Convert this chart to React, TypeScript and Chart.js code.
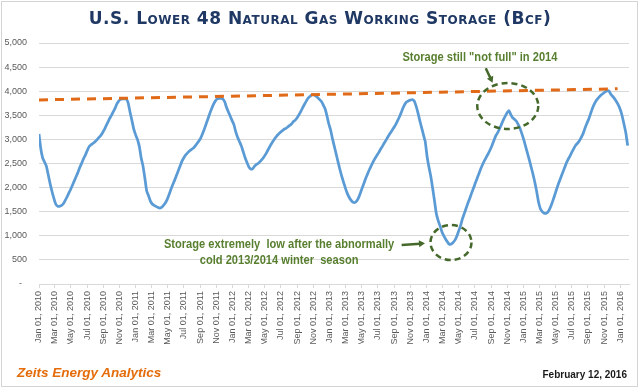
import React, { useEffect, useRef } from "react";
import { Chart, registerables } from "chart.js";

Chart.register(...registerables);

// Weekly Lower 48 working gas in storage (Bcf), week-ending Fridays starting Jan 01, 2010
const START_DATE = "Jan 01, 2010";
const STORAGE_2010 = [
  3112, 2800, 2610, 2530, 2440, 2260, 2080, 1920, 1780, 1660, 1615, 1610, 1625, 1660, 1725, 1800,
  1880, 1960, 2050, 2140, 2230, 2320, 2420, 2510, 2600, 2680, 2770, 2850, 2890, 2915, 2945, 2985,
  3030, 3070, 3120, 3190, 3270, 3350, 3430, 3500, 3575, 3650, 3740, 3800, 3830, 3840, 3843, 3835,
  3760, 3570, 3400, 3220, 3100,
];
const STORAGE_2011 = [
  3000, 2860, 2620, 2450, 2200, 1930, 1830, 1720, 1660, 1630, 1610, 1590, 1575, 1590, 1630, 1680,
  1750, 1850, 1960, 2060, 2150, 2250, 2350, 2450, 2550, 2620, 2680, 2720, 2760, 2790, 2815, 2860,
  2910, 2960, 3020, 3110, 3210, 3320, 3430, 3540, 3640, 3730, 3800, 3840, 3850, 3852, 3840, 3780,
  3660, 3570, 3480, 3390,
];
const STORAGE_2012 = [
  3300, 3150, 3040, 2950, 2860, 2740, 2620, 2520, 2430, 2385, 2390, 2440, 2480, 2500, 2540, 2580,
  2630, 2690, 2760, 2830, 2900, 2960, 3020, 3070, 3110, 3150, 3180, 3210, 3230, 3260, 3290, 3320,
  3370, 3400, 3450, 3510, 3580, 3660, 3730, 3800, 3860, 3895, 3925, 3929, 3900, 3870, 3830, 3790,
  3720, 3640, 3500, 3330,
];
const STORAGE_2013 = [
  3200, 3020, 2860, 2700, 2540, 2380, 2240, 2110, 1990, 1880, 1800, 1740, 1700, 1690, 1720, 1780,
  1880, 1990, 2090, 2200, 2290, 2380, 2460, 2540, 2610, 2670, 2730, 2800, 2860, 2930, 2990, 3060,
  3120, 3180, 3240, 3300, 3380, 3460, 3550, 3650, 3730, 3780, 3800, 3816, 3825, 3800, 3700, 3560,
  3400, 3250, 3100, 2950,
];
const STORAGE_2014 = [
  2640, 2420, 2230, 1980, 1720, 1450, 1310, 1200, 1080, 1000, 930, 870, 822, 830, 860, 910,
  990, 1100, 1210, 1350, 1460, 1570, 1680, 1780, 1890, 1990, 2100, 2200, 2300, 2400, 2490, 2570,
  2640, 2710, 2790, 2880, 2980, 3080, 3140, 3220, 3310, 3400, 3480, 3550, 3600, 3520, 3450, 3420,
  3380, 3310, 3230, 3120,
];
const STORAGE_2015 = [
  3000, 2860, 2720, 2580, 2430, 2280, 2110, 1920, 1700, 1560, 1500, 1470, 1465, 1490, 1560, 1650,
  1760, 1880, 2000, 2110, 2210, 2310, 2410, 2510, 2590, 2660, 2740, 2810, 2880, 2920, 2970, 3040,
  3120, 3230, 3330, 3420, 3530, 3640, 3730, 3800, 3850, 3895, 3930, 3960, 3990, 4009, 4000, 3930,
  3890, 3840, 3780, 3710,
];
const STORAGE_2016 = [3620, 3490, 3320, 3140, 2870];

// Dashed "full storage" trend line (date, Bcf)
const TREND_DATES = ["Jan 01, 2010", "Dec 22, 2015"];
const TREND_VALUES = [3820, 4050];

const X_TICK_LABELS = [
  "Jan 01, 2010", "Mar 01, 2010", "May 01, 2010", "Jul 01, 2010", "Sep 01, 2010", "Nov 01, 2010",
  "Jan 01, 2011", "Mar 01, 2011", "May 01, 2011", "Jul 01, 2011", "Sep 01, 2011", "Nov 01, 2011",
  "Jan 01, 2012", "Mar 01, 2012", "May 01, 2012", "Jul 01, 2012", "Sep 01, 2012", "Nov 01, 2012",
  "Jan 01, 2013", "Mar 01, 2013", "May 01, 2013", "Jul 01, 2013", "Sep 01, 2013", "Nov 01, 2013",
  "Jan 01, 2014", "Mar 01, 2014", "May 01, 2014", "Jul 01, 2014", "Sep 01, 2014", "Nov 01, 2014",
  "Jan 01, 2015", "Mar 01, 2015", "May 01, 2015", "Jul 01, 2015", "Sep 01, 2015", "Nov 01, 2015",
  "Jan 01, 2016",
];
const X_END_DATE = "Feb 03, 2016";
const Y_MIN = 0;
const Y_MAX = 5000;
const Y_STEP = 500;

const TITLE = "U.S. Lower 48 Natural Gas Working Storage (Bcf)";
const SOURCE = "Zeits Energy Analytics";
const DATE_NOTE = "February 12, 2016";
const NOTE_FULL = ['Storage still "not full" in 2014'];
const NOTE_LOW = ["Storage extremely  low after the abnormally", "cold 2013/2014 winter  season"];

const MONTHS = ["Jan", "Feb", "Mar", "Apr", "May", "Jun", "Jul", "Aug", "Sep", "Oct", "Nov", "Dec"];
function dayOf(label: string): number {
  const [mon, d, y] = label.replace(",", "").split(" ");
  const base = START_DATE.replace(",", "").split(" ");
  const t0 = Date.UTC(+base[2], MONTHS.indexOf(base[0]), +base[1]);
  return Math.round((Date.UTC(+y, MONTHS.indexOf(mon), +d) - t0) / 86400000);
}

const WEEKLY = [
  ...STORAGE_2010, ...STORAGE_2011, ...STORAGE_2012, ...STORAGE_2013,
  ...STORAGE_2014, ...STORAGE_2015, ...STORAGE_2016,
];
const STORAGE_POINTS = WEEKLY.map((v, i) => ({ x: i * 7, y: v }));
const TREND_POINTS = TREND_DATES.map((d, i) => ({ x: dayOf(d), y: TREND_VALUES[i] }));
const TICK_DAYS = X_TICK_LABELS.map(dayOf);
const LABEL_BY_DAY = new Map(X_TICK_LABELS.map((l) => [dayOf(l), l] as [number, string]));

const GREEN_TEXT = "#587f2f";
const GREEN_LINE = "#45692b";
const AXIS_FONT = { family: "'Liberation Sans', Arial, sans-serif", size: 9 };

function drawArrow(ctx: CanvasRenderingContext2D, x1: number, y1: number, x2: number, y2: number) {
  const ang = Math.atan2(y2 - y1, x2 - x1);
  const head = 6;
  ctx.beginPath();
  ctx.moveTo(x1, y1);
  ctx.lineTo(x2 - Math.cos(ang) * head * 0.8, y2 - Math.sin(ang) * head * 0.8);
  ctx.stroke();
  ctx.beginPath();
  ctx.moveTo(x2, y2);
  ctx.lineTo(x2 - head * Math.cos(ang) + 3.5 * Math.sin(ang), y2 - head * Math.sin(ang) - 3.5 * Math.cos(ang));
  ctx.lineTo(x2 - head * Math.cos(ang) - 3.5 * Math.sin(ang), y2 - head * Math.sin(ang) + 3.5 * Math.cos(ang));
  ctx.closePath();
  ctx.fill();
}

const notesPlugin = {
  id: "notes",
  afterDatasetsDraw(chart: any) {
    const { ctx } = chart;
    const xs = chart.scales.x;
    const ys = chart.scales.y;
    const px = (d: number) => xs.getPixelForValue(d);
    const py = (v: number) => ys.getPixelForValue(v);
    ctx.save();

    // dashed circles
    ctx.strokeStyle = GREEN_LINE;
    ctx.lineWidth = 2.5;
    ctx.setLineDash([6, 4]);
    ctx.beginPath();
    ctx.ellipse(px(1767), py(3693), 30.5, 23, 0, 0, Math.PI * 2);
    ctx.stroke();
    ctx.beginPath();
    ctx.ellipse(px(1553), py(861), 20.5, 17.5, 0, 0, Math.PI * 2);
    ctx.stroke();
    ctx.setLineDash([]);

    // arrows
    ctx.strokeStyle = GREEN_LINE;
    ctx.fillStyle = GREEN_LINE;
    ctx.lineWidth = 2.5;
    drawArrow(ctx, px(1684), py(4477), px(1710), py(4176));
    drawArrow(ctx, px(1367), py(809), px(1455), py(844));

    // texts (condensed bold)
    ctx.fillStyle = GREEN_TEXT;
    ctx.font = "bold 13px 'Liberation Sans', Arial, sans-serif";
    ctx.textAlign = "center";
    ctx.textBaseline = "alphabetic";
    const drawLine = (t: string, cx: number, by: number) => {
      ctx.save();
      ctx.translate(cx, by);
      ctx.scale(0.855, 1);
      ctx.fillText(t, 0, 0);
      ctx.restore();
    };
    NOTE_FULL.forEach((t, i) => drawLine(t, px(1662), py(4627) + i * 16));
    NOTE_LOW.forEach((t, i) => drawLine(t, px(905), py(747) + i * 16));
    ctx.restore();
  },
};

export default function App() {
  const ref = useRef<HTMLCanvasElement>(null);

  useEffect(() => {
    const chart = new Chart(ref.current as HTMLCanvasElement, {
      type: "line",
      data: {
        datasets: [
          {
            data: TREND_POINTS,
            borderColor: "#e06a17",
            borderWidth: 3,
            borderDash: [9, 7],
            pointRadius: 0,
            fill: false,
          },
          {
            data: STORAGE_POINTS,
            borderColor: "#5b9bd5",
            borderWidth: 2.75,
            pointRadius: 0,
            tension: 0.2,
            fill: false,
          },
        ],
      },
      options: {
        animation: false,
        responsive: false,
        devicePixelRatio: 1,
        parsing: false as any,
        layout: { padding: { left: 4, right: 11, top: 43, bottom: 45 } },
        plugins: { legend: { display: false }, tooltip: { enabled: false }, title: { display: false } },
        scales: {
          x: {
            type: "linear",
            min: 0,
            max: dayOf(X_END_DATE),
            afterBuildTicks: (s: any) => {
              s.ticks = TICK_DAYS.map((v) => ({ value: v }));
            },
            afterFit: (s: any) => {
              s.height = 60;
            },
            ticks: {
              autoSkip: false,
              maxRotation: 90,
              minRotation: 90,
              padding: 3,
              color: "#595959",
              font: AXIS_FONT,
              callback: (v: any) => LABEL_BY_DAY.get(Number(v)) ?? "",
            },
            grid: { display: true, drawOnChartArea: false, drawTicks: true, tickLength: 4, color: "#d9d9d9" },
            border: { display: true, color: "#d9d9d9" },
          },
          y: {
            type: "linear",
            min: Y_MIN,
            max: Y_MAX,
            afterFit: (s: any) => {
              s.width = 35;
            },
            ticks: {
              stepSize: Y_STEP,
              padding: 12,
              color: "#595959",
              font: AXIS_FONT,
              callback: (v: any) => (Number(v) === 0 ? "-  " : Number(v).toLocaleString("en-US")),
            },
            grid: { color: "#d9d9d9", drawTicks: false },
            border: { display: false },
          },
        },
      } as any,
      plugins: [notesPlugin],
    });
    return () => chart.destroy();
  }, []);

  return (
    <div
      style={{
        position: "fixed",
        left: 0,
        top: 0,
        width: 640,
        height: 389,
        background: "#ffffff",
        overflow: "hidden",
      }}
    >
      <canvas
        ref={ref}
        width={640}
        height={389}
        style={{ position: "absolute", left: 0, top: 0, width: 640, height: 389 }}
      />
      <div
        style={{
          position: "absolute",
          left: 1,
          top: 1,
          width: 635,
          height: 384,
          border: "1px solid #d4d4d4",
          pointerEvents: "none",
        }}
      />
      <div
        style={{
          position: "absolute",
          left: 0,
          top: 10,
          width: 640,
          textAlign: "center",
          fontFamily: "'DejaVu Sans', sans-serif",
          fontWeight: "bold",
          fontVariant: "small-caps",
          fontSize: 17,
          lineHeight: "17px",
          letterSpacing: "0.5px",
          color: "#1f3864",
          whiteSpace: "nowrap",
        }}
      >
        {TITLE}
      </div>
      <div
        style={{
          position: "absolute",
          left: 17,
          top: 366,
          fontFamily: "'Liberation Sans', Arial, sans-serif",
          fontWeight: "bold",
          fontStyle: "italic",
          fontSize: 13.5,
          lineHeight: "13.5px",
          color: "#e46c0a",
          whiteSpace: "nowrap",
        }}
      >
        {SOURCE}
      </div>
      <div
        style={{
          position: "absolute",
          right: 13,
          top: 370,
          fontFamily: "'Liberation Sans', Arial, sans-serif",
          fontWeight: "bold",
          fontSize: 10,
          lineHeight: "10px",
          color: "#1a1a1a",
          whiteSpace: "nowrap",
        }}
      >
        {DATE_NOTE}
      </div>
    </div>
  );
}
